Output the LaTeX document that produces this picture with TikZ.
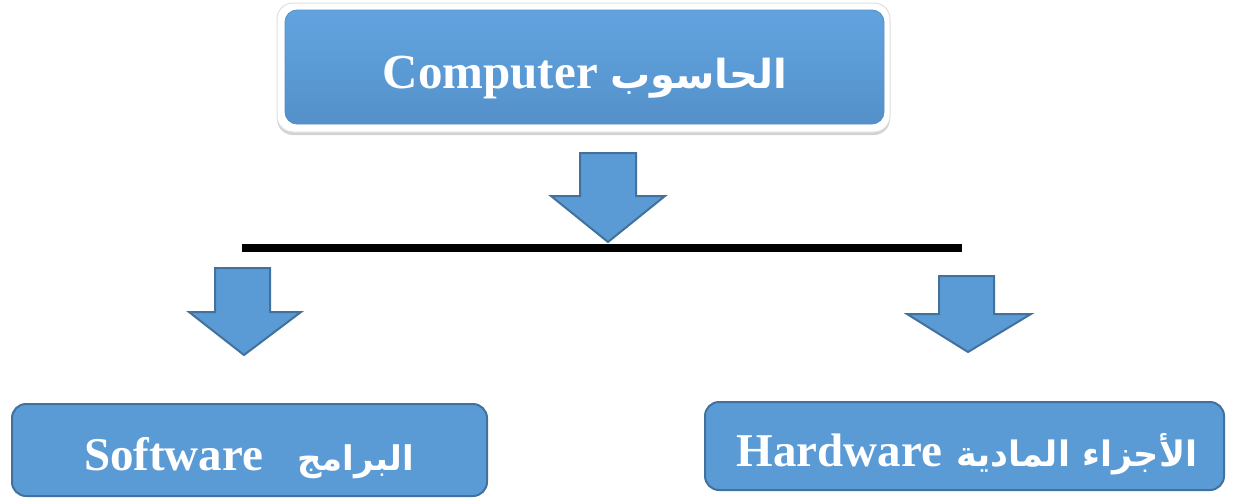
\documentclass[tikz,border=0pt]{standalone}
\usepackage{fontspec}
\setmainfont{Liberation Serif}
\newfontfamily\arabicfont[Script=Arabic]{DejaVu Sans}
\TeXXeTstate=1
\usetikzlibrary{shadows}
\definecolor{boxblue}{HTML}{5B9BD5}
\definecolor{boxedge}{HTML}{41719C}
\definecolor{toplight}{HTML}{62A3DF}
\definecolor{topdark}{HTML}{5490C9}
\tikzset{
  bluebox/.style={draw=boxedge, line width=2pt, fill=boxblue, rounded corners=14pt, inner sep=0pt},
  boxtext/.style={anchor=base, text=white, font=\bfseries\fontsize{47}{50}\selectfont, inner sep=0pt},
  blockarrow/.style={draw=boxedge, line width=2pt, fill=boxblue, line join=miter},
  barline/.style={line width=8pt, black}
}
\begin{document}
\begin{tikzpicture}[x=1pt,y=-1pt]
\useasboundingbox (0,0) rectangle (1235,498);
% top frame
\node[draw=gray!25, line width=1pt, fill=white, rounded corners=16pt,
  minimum width=613pt, minimum height=129pt,
  drop shadow={opacity=0.35, shadow xshift=0pt, shadow yshift=-3pt}] (frame) at (583.5,67.5) {};
\node[top color=toplight, bottom color=topdark, middle color=boxblue,
  draw=topdark, line width=0.8pt, rounded corners=12pt,
  minimum width=599pt, minimum height=114pt] (top) at (584.5,67) {};
\node[boxtext, font=\bfseries\fontsize{49}{52}\selectfont] (toptext) at (585,88)
  {Computer {\arabicfont\fontsize{40}{42}\selectfont\beginR الحاسوب\endR}};
% centre arrow
\draw[blockarrow] (580,153) -- (636,153) -- (636,196) -- (665,196) -- (608,242)
  -- (551,196) -- (580,196) -- cycle;
% bar
\coordinate (bl) at (242,248);
\coordinate (br) at (962,248);
\draw[barline] (bl) -- (br);
% left arrow
\draw[blockarrow] (215,268) -- (270,268) -- (270,312) -- (301,312) -- (244,355)
  -- (189,312) -- (215,312) -- cycle;
% right arrow
\draw[blockarrow] (939,276) -- (994,276) -- (994,314) -- (1031,314) -- (968,352)
  -- (907,314) -- (939,314) -- cycle;
% bottom boxes
\node[bluebox, minimum width=475pt, minimum height=92pt] (sw) at (249.5,450) {};
\node[boxtext] (swtext) at (249,470)
  {Software\hspace{34pt}{\arabicfont\fontsize{34}{38}\selectfont\beginR البرامج\endR}};
\node[bluebox, minimum width=519pt, minimum height=88pt] (hw) at (964.5,446) {};
\node[boxtext] (hwtext) at (967,466)
  {Hardware\hspace{14pt}{\arabicfont\fontsize{35}{40}\selectfont\beginR الأجزاء المادية\endR}};
\end{tikzpicture}
\end{document}
